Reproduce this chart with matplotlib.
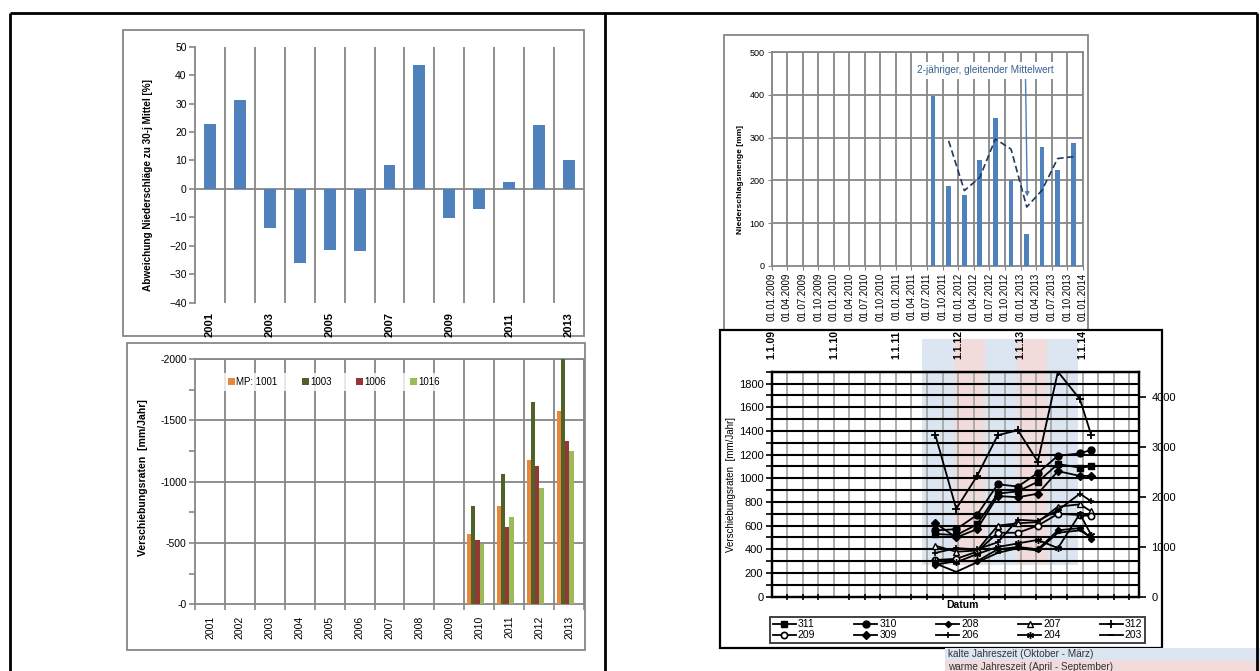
import numpy as np
import pandas as pd
import matplotlib
matplotlib.use("Agg")
import matplotlib.pyplot as plt
import matplotlib.dates as mdates
from matplotlib.patches import Rectangle

plt.rcParams['font.family'] = ['Liberation Sans', 'DejaVu Sans']

# ---------------------------------------------------------------- data
years = [2001, 2002, 2003, 2004, 2005, 2006, 2007, 2008, 2009, 2010, 2011, 2012, 2013]
deviation_pct = [22.8, 31.3, -13.8, -26.0, -21.5, -21.7, 8.3, 43.5, -10.2, -7.0, 2.5, 22.3, 10.3]

rate_years = [2010, 2011, 2012, 2013]
mp_1001 = [-570, -805, -1180, -1580]
mp_1003 = [-800, -1060, -1650, -2000]
mp_1006 = [-525, -630, -1130, -1330]
mp_1016 = [-490, -710, -945, -1250]

rain_dates = ['2011-08-05', '2011-11-05', '2012-02-05', '2012-05-05', '2012-08-05',
              '2012-11-05', '2013-02-05', '2013-05-05', '2013-08-05', '2013-11-05']
rain_mm = [398, 187, 165, 248, 346, 200, 75, 278, 224, 287]

survey_dates = ['2011-08-20', '2011-12-20', '2012-04-20', '2012-08-20', '2012-12-16',
                '2013-04-12', '2013-08-08', '2013-12-15', '2014-02-20']
pt_311 = [530, 520, 610, 870, 890, 970, 1120, 1090, 1100]
pt_310 = [560, 570, 690, 950, 930, 1045, 1190, 1210, 1240]
pt_208 = [270, 300, 300, 400, 420, 400, 560, 580, 490]
pt_207 = [430, 380, 390, 600, 620, 630, 760, 780, 720]
pt_312 = [3230, 1760, 2410, 3230, 3330, 2700, 4500, 3950, 3230]   # right axis
pt_209 = [310, 320, 380, 540, 540, 600, 700, 690, 680]
pt_309 = [620, 500, 570, 850, 840, 870, 1060, 1020, 1020]
pt_206 = [370, 410, 400, 460, 650, 640, 730, 870, 805]
pt_204 = [300, 290, 360, 420, 450, 480, 410, 700, 520]
pt_203 = [280, 210, 290, 370, 410, 390, 540, 560, 500]

cold_seasons = [('2011-06-03', '2011-12-06'), ('2012-06-06', '2012-12-09'), ('2013-06-03', '2013-12-02')]
warm_seasons = [('2011-12-06', '2012-06-06'), ('2012-12-09', '2013-06-03')]

# ---------------------------------------------------------------- figure
W, H = 1260, 671
fig = plt.figure(figsize=(W / 100, H / 100), dpi=100)


def px_axes(l, t, r, b):
    return fig.add_axes([l / W, 1 - b / H, (r - l) / W, (b - t) / H])


GRAY = '#878787'
BLUE = '#4F81BD'

# background layer with page frame, panel boxes and free text
bg = px_axes(0, 0, W, H)
bg.set_xlim(0, W)
bg.set_ylim(H, 0)
bg.axis('off')
bg.set_zorder(-10)
for xs, ys in [([10, 1257], [13, 13]), ([10, 10], [13, 671]), ([605, 605], [13, 671]),
               ([1257, 1257], [13, 671])]:
    bg.plot(xs, ys, color='black', lw=2, solid_capstyle='butt')
bg.add_patch(Rectangle((123, 30), 461, 306, fill=False, ec=GRAY, lw=1.3))
bg.add_patch(Rectangle((126.5, 343.3), 458, 306.7, fill=False, ec=GRAY, lw=1.3))
bg.add_patch(Rectangle((724, 35), 364, 295, fill=False, ec=GRAY, lw=1.3))
bg.add_patch(Rectangle((720, 330), 442, 318, fill=False, ec='black', lw=1.6))

# season key below the right-hand panel
bg.add_patch(Rectangle((945, 648), 315, 12, color='#DCE6F2', lw=0))
bg.add_patch(Rectangle((945, 660), 315, 12, color='#F2DCDB', lw=0))
bg.text(948, 654, 'kalte Jahreszeit (Oktober - März)', fontsize=7.2, color='#333333', va='center')
bg.text(948, 667, 'warme Jahreszeit (April - September)', fontsize=7.2, color='#333333', va='center')

# y-axis titles
bg.text(148, 185, 'Abweichung Niederschläge zu 30-j Mittel [%]', rotation=90,
        fontsize=7.2, fontweight='bold', ha='center', va='center')
bg.text(142.5, 478, 'Verschiebungsraten  [mm/Jahr]', rotation=90,
        fontsize=7.6, fontweight='bold', ha='center', va='center')
bg.text(740, 180, 'Niederschlagsmenge [mm]', rotation=90,
        fontsize=6, fontweight='bold', ha='center', va='center')
bg.text(731, 484, 'Verschiebungsraten  [mm/Jahr]', rotation=90,
        fontsize=7, ha='center', va='center')
bg.text(962, 605, 'Datum', fontsize=7.5, fontweight='bold', ha='center', va='center')

# ---------------------------------------------------------------- panel 1: precipitation deviation
ax1 = px_axes(195, 46.7, 584, 302.7)
xpos = np.arange(len(years))
ax1.bar(xpos, deviation_pct, width=0.4, color=BLUE, zorder=3)
ax1.set_xlim(-0.5, len(years) - 0.5)
ax1.set_ylim(-40, 50)
for b in np.arange(0.5, len(years), 1):
    ax1.axvline(b, color=GRAY, lw=1.3, zorder=1)
ax1.axhline(0, color=GRAY, lw=1.3, zorder=2)
for s in ['top', 'right', 'bottom']:
    ax1.spines[s].set_visible(False)
ax1.spines['left'].set_color(GRAY)
ax1.spines['left'].set_linewidth(1.3)
ax1.set_xticks(xpos[::2])
ax1.set_xticklabels([str(y) for y in years[::2]], rotation=90, fontweight='bold', fontsize=8)
ax1.tick_params(axis='x', length=0, pad=7)
ax1.set_yticks(range(-40, 51, 10))
ax1.tick_params(axis='y', length=4, color=GRAY, width=1.2, labelsize=7.5, pad=2)

# ---------------------------------------------------------------- panel 2: displacement rates per year
ax2 = px_axes(195, 359, 584, 604.3)
ax2.set_xlim(-0.5, len(years) - 0.5)
ax2.set_ylim(0, -2000)
for b in np.arange(0.5, len(years), 1):
    ax2.axvline(b, color=GRAY, lw=1.3, zorder=1)
for v in [-500, -1000, -1500, -2000]:
    ax2.axhline(v, color=GRAY, lw=1.3, zorder=1)
idx = np.array([years.index(y) for y in rate_years])
bar_series = [('MP: 1001', mp_1001, '#E8873A'), ('1003', mp_1003, '#4F6228'),
              ('1006', mp_1006, '#953735'), ('1016', mp_1016, '#9BBB59')]
offsets = [-0.34, -0.20, -0.06, 0.08]
handles = []
for (lab, vals, col), off in zip(bar_series, offsets):
    h = ax2.bar(idx + off, vals, width=0.14, color=col, zorder=3, label=lab)
    handles.append(h)
for s in ax2.spines.values():
    s.set_color(GRAY)
    s.set_linewidth(1.3)
ax2.set_xticks(xpos)
ax2.set_xticklabels([str(y) for y in years], rotation=90, fontsize=7.5)
ax2.set_xticks(np.arange(-0.5, len(years), 1), minor=True)
ax2.tick_params(axis='x', which='major', length=0, pad=8)
ax2.tick_params(axis='x', which='minor', length=4, color=GRAY, width=1.2)
ax2.set_yticks([0, -500, -1000, -1500, -2000])
ax2.set_yticklabels(['-0', '-500', '-1000', '-1500', '-2000'])
ax2.set_yticks(np.arange(-250, -2000, -500), minor=True)
ax2.tick_params(axis='y', which='both', length=4, color=GRAY, width=1.2, labelsize=7.5, pad=2)
leg2 = ax2.legend(handles=handles, loc='center left', bbox_to_anchor=(0.075, 0.906), ncol=4,
                  fontsize=7, frameon=True, fancybox=False, handlelength=0.7, handleheight=0.7,
                  handletextpad=0.15, columnspacing=2.5, borderpad=0.4, borderaxespad=0)
leg2.get_frame().set_facecolor('white')
leg2.get_frame().set_edgecolor('none')

# ---------------------------------------------------------------- panel 3: quarterly precipitation
ax3 = px_axes(771.7, 52.3, 1083, 265.7)
quarters = mdates.date2num(pd.date_range('2009-01-01', '2014-01-01', freq='QS').to_pydatetime())
rd = mdates.datestr2num(rain_dates)
ax3.bar(rd, rain_mm, width=27, color=BLUE, zorder=3)
moving_avg = pd.Series(rain_mm).rolling(2).mean().to_numpy()
ax3.plot(rd, moving_avg, color='#1F3864', lw=1.2, ls=(0, (4, 2)), zorder=4)
ax3.set_xlim(quarters[0], quarters[-1])
ax3.set_ylim(0, 500)
for q in quarters:
    ax3.axvline(q, color=GRAY, lw=1.3, zorder=1)
for v in range(100, 501, 100):
    ax3.axhline(v, color=GRAY, lw=1.3, zorder=1)
for s in ax3.spines.values():
    s.set_color(GRAY)
    s.set_linewidth(1.3)
ax3.set_xticks(quarters)
ax3.set_xticklabels([mdates.num2date(q).strftime('%d.%m.%Y') for q in quarters],
                    rotation=90, fontsize=7)
ax3.tick_params(axis='x', length=3, color=GRAY, pad=2)
ax3.set_yticks(range(0, 501, 100))
ax3.tick_params(axis='y', length=3, color=GRAY, labelsize=6.5, pad=2)
ax3.annotate('2-jähriger, gleitender Mittelwert', xy=(rd[6] + 3, 162),
             xytext=(mdates.datestr2num('2012-06-10'), 458), textcoords='data',
             ha='center', va='center', fontsize=7.2, color='#365F91', zorder=6,
             bbox=dict(boxstyle='square,pad=0.35', fc='white', ec='none'),
             arrowprops=dict(arrowstyle='-|>', color='#4A7EBB', lw=1.0,
                             mutation_scale=6, relpos=(0.79, 0), shrinkA=0, shrinkB=0))

# ---------------------------------------------------------------- panel 4: displacement rates of survey points
ax4 = px_axes(771.7, 371.7, 1139, 596.7)
x0 = mdates.datestr2num('2009-01-01')
x1 = mdates.datestr2num('2014-11-27')
ax4.set_xlim(x0, x1)
ax4.set_ylim(0, 1900)
q4 = mdates.date2num(pd.date_range('2009-01-01', '2014-10-01', freq='QS').to_pydatetime())
yr4 = mdates.date2num(pd.date_range('2009-01-01', '2014-01-01', freq='YS').to_pydatetime())
for q in q4:
    ax4.axvline(q, color='#A6A6A6', lw=1.3, zorder=1.2)
for v in range(100, 1901, 100):
    ax4.axhline(v, color='black', lw=1.5, zorder=1.4)
for a, b in cold_seasons:
    ax4.axvspan(mdates.datestr2num(a), mdates.datestr2num(b), ymin=0.141, ymax=1.145,
                color='#DCE6F2', lw=0, clip_on=False, zorder=0.5)
for a, b in warm_seasons:
    ax4.axvspan(mdates.datestr2num(a), mdates.datestr2num(b), ymin=0.141, ymax=1.145,
                color='#F2DCDB', lw=0, clip_on=False, zorder=0.5)

sd = mdates.datestr2num(survey_dates)
line_kw = dict(color='black', lw=1.3, zorder=3)
series_left = [
    ('311', pt_311, dict(marker='s', ms=4, mfc='black')),
    ('310', pt_310, dict(marker='o', ms=5, mfc='black')),
    ('208', pt_208, dict(marker='D', ms=3.2, mfc='black')),
    ('207', pt_207, dict(marker='^', ms=4.5, mfc='white', mew=1.0)),
    ('209', pt_209, dict(marker='o', ms=4.5, mfc='white', mew=1.2)),
    ('309', pt_309, dict(marker='D', ms=3.8, mfc='black')),
    ('206', pt_206, dict(marker='+', ms=5, mew=1.2)),
    ('204', pt_204, dict(marker=(6, 2, 0), ms=5, mew=1.0)),
    ('203', pt_203, dict(marker='_', ms=4, mew=1.2)),
]
lines = {}
for lab, vals, mk in series_left:
    (ln,) = ax4.plot(sd, vals, label=lab, mec='black', **line_kw, **mk)
    lines[lab] = ln

ax4r = ax4.twinx()
ax4r.set_ylim(0, 4500)
(ln312,) = ax4r.plot(sd, pt_312, label='312', marker='+', ms=6, mew=1.3, mec='black', **line_kw)
lines['312'] = ln312

for a in (ax4, ax4r):
    for s in a.spines.values():
        s.set_color('black')
        s.set_linewidth(1.6)

ax4.xaxis.tick_top()
ax4.set_xticks(yr4)
ax4.set_xticklabels(['1.1.%02d' % (mdates.num2date(y).year % 100) for y in yr4],
                    rotation=90, fontweight='bold', fontsize=7.5)
ax4.set_xticks(q4, minor=True)
ax4.tick_params(axis='x', which='major', top=True, labeltop=True, bottom=True, labelbottom=False,
                length=0, pad=9)
ax4.tick_params(axis='x', which='minor', top=False, bottom=True, direction='inout',
                length=5, width=1.2, color='black')
ax4.set_yticks(range(0, 1801, 200))
ax4.set_yticks(range(100, 1901, 200), minor=True)
ax4.tick_params(axis='y', which='both', length=4, width=1.2, color='black', labelsize=8, pad=2)
ax4r.set_yticks(range(0, 4001, 1000))
ax4r.tick_params(axis='y', length=5, width=1.2, color='black', labelsize=8, pad=4)

order = ['311', '209', '310', '309', '208', '206', '207', '204', '312', '203']
leg4 = fig.legend([lines[k] for k in order], order, ncol=5, loc='lower left',
                  bbox_to_anchor=(770 / W, 1 - 643 / H, 375 / W, 25 / H), mode='expand',
                  borderaxespad=0, frameon=True, fancybox=False, fontsize=7.5,
                  handlelength=2.2, handletextpad=0.2, borderpad=0.25, labelspacing=0.1)
leg4.get_frame().set_edgecolor('black')
leg4.get_frame().set_linewidth(1.3)

fig.savefig('out.png', dpi=100, facecolor='white')
